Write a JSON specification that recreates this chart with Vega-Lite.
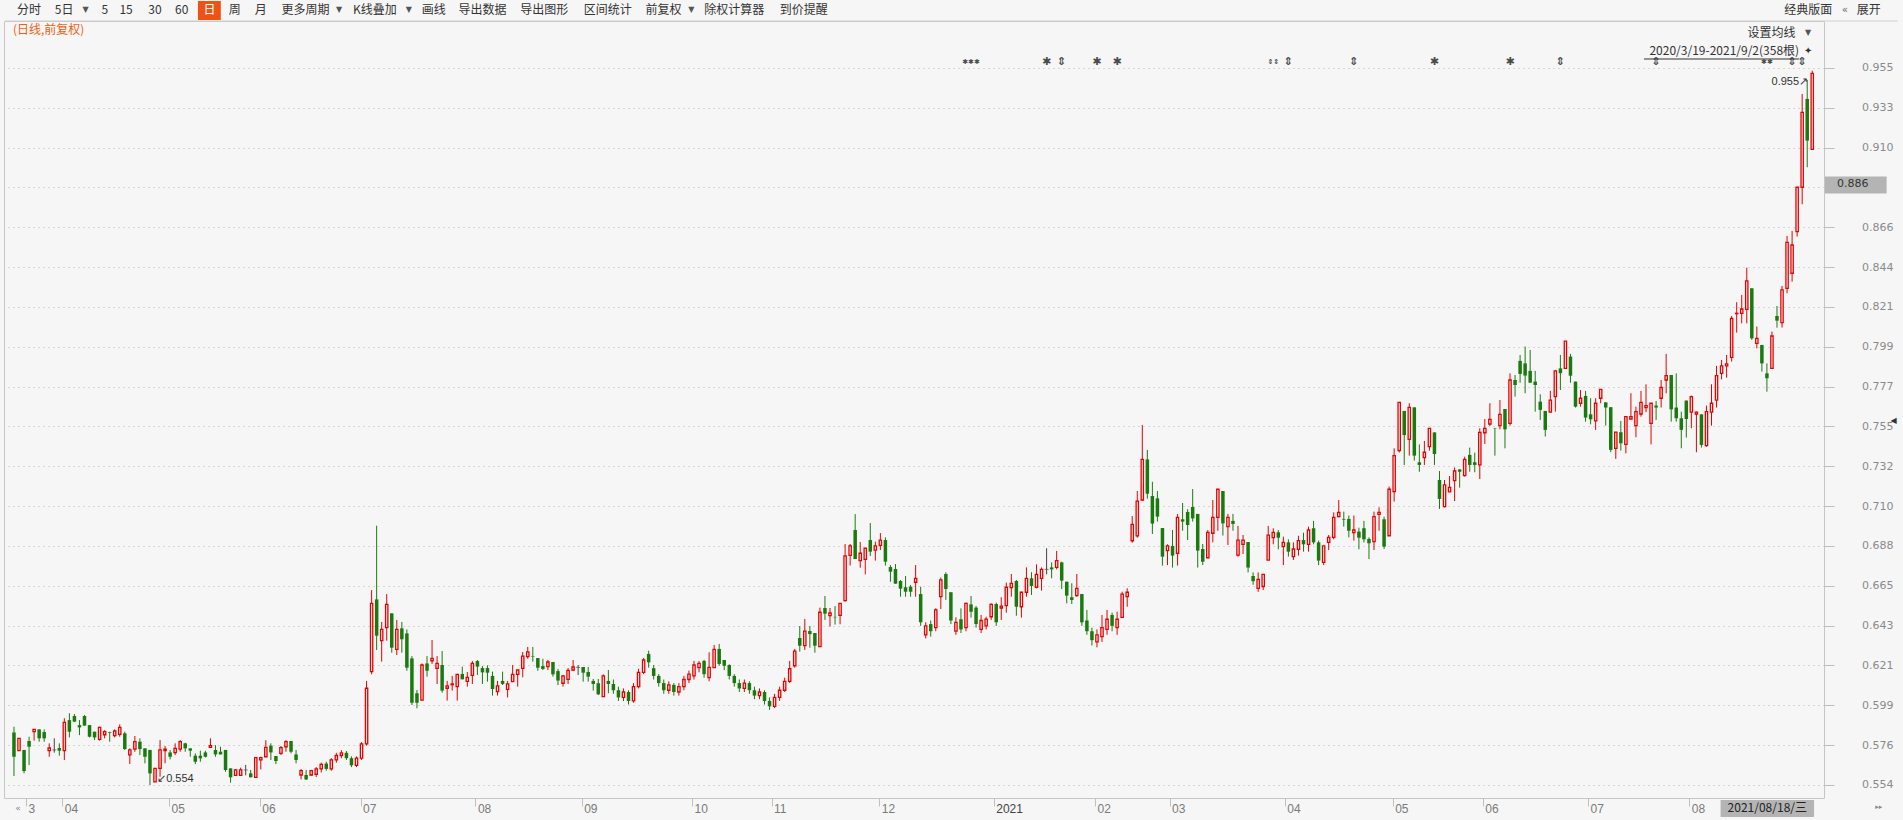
{
"$schema": "https://vega.github.io/schema/vega-lite/v6.json",
"width": 1820, "height": 777,
"autosize": {"type": "none"},
"padding": {"left": 4, "top": 21, "right": 79, "bottom": 22},
"background": "#f6f6f6",
"config": {"view": {"stroke": "#c6c6c6", "strokeWidth": 1}, "text": {"font": "Noto Sans CJK SC"}},
"data": {"values": [{}]},
"datasets": {
"k": [
{"i":0,"o":0.5834,"h":0.5866,"l":0.559,"c":0.5698},
{"i":1,"o":0.5732,"h":0.5801,"l":0.5732,"c":0.5801},
{"i":2,"o":0.5736,"h":0.5736,"l":0.5605,"c":0.5618},
{"i":3,"o":0.5786,"h":0.581,"l":0.5652,"c":0.5754},
{"i":4,"o":0.5838,"h":0.5851,"l":0.5788,"c":0.5851},
{"i":5,"o":0.5851,"h":0.5851,"l":0.5782,"c":0.5801},
{"i":6,"o":0.5836,"h":0.5851,"l":0.5782,"c":0.5801},
{"i":7,"o":0.5732,"h":0.5773,"l":0.5698,"c":0.5747},
{"i":8,"o":0.5736,"h":0.5801,"l":0.5721,"c":0.5736},
{"i":9,"o":0.5747,"h":0.5773,"l":0.5704,"c":0.5732},
{"i":10,"o":0.5732,"h":0.5913,"l":0.568,"c":0.589},
{"i":11,"o":0.5903,"h":0.5941,"l":0.5806,"c":0.5838},
{"i":12,"o":0.5926,"h":0.5937,"l":0.5894,"c":0.5894},
{"i":13,"o":0.5875,"h":0.5903,"l":0.5819,"c":0.5862},
{"i":14,"o":0.5926,"h":0.5931,"l":0.5872,"c":0.5872},
{"i":15,"o":0.5875,"h":0.5875,"l":0.5806,"c":0.581},
{"i":16,"o":0.5838,"h":0.5838,"l":0.5791,"c":0.5806},
{"i":17,"o":0.5795,"h":0.5866,"l":0.5788,"c":0.5862},
{"i":18,"o":0.5821,"h":0.5847,"l":0.5801,"c":0.5838},
{"i":19,"o":0.5836,"h":0.5838,"l":0.5782,"c":0.5832},
{"i":20,"o":0.5816,"h":0.5851,"l":0.5806,"c":0.5842},
{"i":21,"o":0.5823,"h":0.5879,"l":0.581,"c":0.5862},
{"i":22,"o":0.5829,"h":0.5838,"l":0.5736,"c":0.5741},
{"i":23,"o":0.5708,"h":0.5745,"l":0.5657,"c":0.5736},
{"i":24,"o":0.5741,"h":0.5814,"l":0.5726,"c":0.5782},
{"i":25,"o":0.5782,"h":0.5801,"l":0.5708,"c":0.5741},
{"i":26,"o":0.5745,"h":0.5745,"l":0.5661,"c":0.5698},
{"i":27,"o":0.5736,"h":0.5736,"l":0.554,"c":0.5605},
{"i":28,"o":0.5557,"h":0.5633,"l":0.5557,"c":0.5633},
{"i":29,"o":0.5633,"h":0.5791,"l":0.5586,"c":0.5736},
{"i":30,"o":0.5732,"h":0.5758,"l":0.5661,"c":0.574},
{"i":31,"o":0.5722,"h":0.5736,"l":0.5683,"c":0.5698},
{"i":32,"o":0.5721,"h":0.5773,"l":0.5708,"c":0.5745},
{"i":33,"o":0.5741,"h":0.5791,"l":0.5726,"c":0.5782},
{"i":34,"o":0.5773,"h":0.5776,"l":0.5726,"c":0.5745},
{"i":35,"o":0.5745,"h":0.5745,"l":0.5698,"c":0.5732},
{"i":36,"o":0.5704,"h":0.5717,"l":0.5657,"c":0.567},
{"i":37,"o":0.5704,"h":0.5732,"l":0.567,"c":0.5689},
{"i":38,"o":0.5722,"h":0.5732,"l":0.5694,"c":0.5698},
{"i":39,"o":0.575,"h":0.5801,"l":0.575,"c":0.576},
{"i":40,"o":0.5736,"h":0.5763,"l":0.5698,"c":0.5711},
{"i":41,"o":0.5726,"h":0.5754,"l":0.5711,"c":0.5711},
{"i":42,"o":0.5736,"h":0.5736,"l":0.5614,"c":0.5624},
{"i":43,"o":0.5633,"h":0.5633,"l":0.5553,"c":0.5583},
{"i":44,"o":0.5594,"h":0.5629,"l":0.5594,"c":0.5624},
{"i":45,"o":0.5594,"h":0.5637,"l":0.5594,"c":0.5624},
{"i":46,"o":0.5624,"h":0.5652,"l":0.5594,"c":0.5624},
{"i":47,"o":0.5605,"h":0.5624,"l":0.5583,"c":0.5583},
{"i":48,"o":0.5583,"h":0.5693,"l":0.5583,"c":0.5693},
{"i":49,"o":0.568,"h":0.5698,"l":0.5627,"c":0.5693},
{"i":50,"o":0.5698,"h":0.5791,"l":0.5698,"c":0.575},
{"i":51,"o":0.576,"h":0.5773,"l":0.568,"c":0.5722},
{"i":52,"o":0.5702,"h":0.5702,"l":0.5657,"c":0.5674},
{"i":53,"o":0.5717,"h":0.5758,"l":0.5708,"c":0.5749},
{"i":54,"o":0.5754,"h":0.5791,"l":0.5726,"c":0.5782},
{"i":55,"o":0.5786,"h":0.5786,"l":0.5717,"c":0.5726},
{"i":56,"o":0.5711,"h":0.5736,"l":0.5661,"c":0.568},
{"i":57,"o":0.5596,"h":0.5629,"l":0.5571,"c":0.562},
{"i":58,"o":0.5596,"h":0.5624,"l":0.5568,"c":0.5571},
{"i":59,"o":0.5596,"h":0.5625,"l":0.559,"c":0.562},
{"i":60,"o":0.56,"h":0.564,"l":0.5585,"c":0.563},
{"i":61,"o":0.563,"h":0.5665,"l":0.561,"c":0.5655},
{"i":62,"o":0.566,"h":0.567,"l":0.562,"c":0.563},
{"i":63,"o":0.563,"h":0.569,"l":0.562,"c":0.568},
{"i":64,"o":0.568,"h":0.572,"l":0.5665,"c":0.5705},
{"i":65,"o":0.5705,"h":0.5735,"l":0.569,"c":0.572},
{"i":66,"o":0.572,"h":0.573,"l":0.568,"c":0.569},
{"i":67,"o":0.569,"h":0.57,"l":0.564,"c":0.565},
{"i":68,"o":0.565,"h":0.57,"l":0.564,"c":0.569},
{"i":69,"o":0.569,"h":0.578,"l":0.568,"c":0.577},
{"i":70,"o":0.577,"h":0.6122,"l":0.576,"c":0.6081},
{"i":71,"o":0.6174,"h":0.663,"l":0.6159,"c":0.6556},
{"i":72,"o":0.6578,"h":0.699,"l":0.6295,"c":0.6375},
{"i":73,"o":0.6347,"h":0.6452,"l":0.623,"c":0.641},
{"i":74,"o":0.642,"h":0.6608,"l":0.6347,"c":0.655},
{"i":75,"o":0.65,"h":0.65,"l":0.628,"c":0.6308},
{"i":76,"o":0.6298,"h":0.6463,"l":0.6267,"c":0.641},
{"i":77,"o":0.6416,"h":0.6452,"l":0.628,"c":0.6355},
{"i":78,"o":0.6388,"h":0.641,"l":0.6179,"c":0.6196},
{"i":79,"o":0.6248,"h":0.6261,"l":0.5987,"c":0.6},
{"i":80,"o":0.6053,"h":0.6071,"l":0.5969,"c":0.6},
{"i":81,"o":0.6015,"h":0.622,"l":0.6012,"c":0.6211},
{"i":82,"o":0.622,"h":0.6261,"l":0.6146,"c":0.6179},
{"i":83,"o":0.6235,"h":0.6351,"l":0.6217,"c":0.6248},
{"i":84,"o":0.6192,"h":0.6261,"l":0.6105,"c":0.622},
{"i":85,"o":0.6211,"h":0.6289,"l":0.6056,"c":0.6068},
{"i":86,"o":0.6081,"h":0.6122,"l":0.6012,"c":0.6094},
{"i":87,"o":0.6101,"h":0.615,"l":0.6068,"c":0.6105},
{"i":88,"o":0.609,"h":0.6159,"l":0.6012,"c":0.6159},
{"i":89,"o":0.6161,"h":0.6202,"l":0.6131,"c":0.6131},
{"i":90,"o":0.612,"h":0.6172,"l":0.609,"c":0.6142},
{"i":91,"o":0.6153,"h":0.6233,"l":0.6105,"c":0.622},
{"i":92,"o":0.6233,"h":0.6239,"l":0.6155,"c":0.6202},
{"i":93,"o":0.6194,"h":0.6205,"l":0.6105,"c":0.617},
{"i":94,"o":0.6194,"h":0.6209,"l":0.6118,"c":0.6168},
{"i":95,"o":0.615,"h":0.6174,"l":0.604,"c":0.6077},
{"i":96,"o":0.6062,"h":0.6122,"l":0.604,"c":0.6094},
{"i":97,"o":0.6122,"h":0.6174,"l":0.6099,"c":0.6105},
{"i":98,"o":0.6075,"h":0.6122,"l":0.603,"c":0.6105},
{"i":99,"o":0.6118,"h":0.6211,"l":0.6118,"c":0.6159},
{"i":100,"o":0.6159,"h":0.6183,"l":0.609,"c":0.6183},
{"i":101,"o":0.6192,"h":0.6284,"l":0.6142,"c":0.6261},
{"i":102,"o":0.6258,"h":0.6312,"l":0.6246,"c":0.6284},
{"i":103,"o":0.6261,"h":0.6312,"l":0.623,"c":0.6258},
{"i":104,"o":0.625,"h":0.625,"l":0.6179,"c":0.6196},
{"i":105,"o":0.6205,"h":0.6246,"l":0.6183,"c":0.6189},
{"i":106,"o":0.6202,"h":0.6239,"l":0.6183,"c":0.6228},
{"i":107,"o":0.6228,"h":0.6228,"l":0.6146,"c":0.6159},
{"i":108,"o":0.6177,"h":0.6189,"l":0.6099,"c":0.6124},
{"i":109,"o":0.6109,"h":0.6155,"l":0.609,"c":0.615},
{"i":110,"o":0.6131,"h":0.6194,"l":0.6105,"c":0.6181},
{"i":111,"o":0.6183,"h":0.6239,"l":0.6177,"c":0.62},
{"i":112,"o":0.6198,"h":0.6211,"l":0.6155,"c":0.6198},
{"i":113,"o":0.62,"h":0.62,"l":0.6118,"c":0.6168},
{"i":114,"o":0.6172,"h":0.62,"l":0.6118,"c":0.6146},
{"i":115,"o":0.6122,"h":0.6133,"l":0.6068,"c":0.6105},
{"i":116,"o":0.6109,"h":0.6133,"l":0.6043,"c":0.6047},
{"i":117,"o":0.6034,"h":0.6159,"l":0.6034,"c":0.615},
{"i":118,"o":0.6122,"h":0.6183,"l":0.6053,"c":0.6105},
{"i":119,"o":0.6105,"h":0.613,"l":0.605,"c":0.607},
{"i":120,"o":0.607,"h":0.609,"l":0.601,"c":0.603},
{"i":121,"o":0.603,"h":0.608,"l":0.601,"c":0.606},
{"i":122,"o":0.606,"h":0.607,"l":0.599,"c":0.601},
{"i":123,"o":0.601,"h":0.611,"l":0.6,"c":0.609},
{"i":124,"o":0.609,"h":0.619,"l":0.608,"c":0.617},
{"i":125,"o":0.617,"h":0.625,"l":0.616,"c":0.6239},
{"i":126,"o":0.6273,"h":0.6291,"l":0.6196,"c":0.6226},
{"i":127,"o":0.6193,"h":0.6211,"l":0.613,"c":0.615},
{"i":128,"o":0.615,"h":0.616,"l":0.609,"c":0.611},
{"i":129,"o":0.611,"h":0.613,"l":0.605,"c":0.607},
{"i":130,"o":0.607,"h":0.612,"l":0.605,"c":0.61},
{"i":131,"o":0.61,"h":0.611,"l":0.604,"c":0.606},
{"i":132,"o":0.606,"h":0.611,"l":0.604,"c":0.609},
{"i":133,"o":0.609,"h":0.615,"l":0.607,"c":0.613},
{"i":134,"o":0.613,"h":0.618,"l":0.611,"c":0.616},
{"i":135,"o":0.615,"h":0.6234,"l":0.613,"c":0.6211},
{"i":136,"o":0.6196,"h":0.6234,"l":0.617,"c":0.622},
{"i":137,"o":0.6234,"h":0.624,"l":0.614,"c":0.616},
{"i":138,"o":0.614,"h":0.6282,"l":0.612,"c":0.6198},
{"i":139,"o":0.6196,"h":0.6323,"l":0.6196,"c":0.6299},
{"i":140,"o":0.6301,"h":0.6329,"l":0.6207,"c":0.6217},
{"i":141,"o":0.6239,"h":0.6239,"l":0.6183,"c":0.6207},
{"i":142,"o":0.6211,"h":0.6215,"l":0.613,"c":0.615},
{"i":143,"o":0.615,"h":0.616,"l":0.609,"c":0.611},
{"i":144,"o":0.611,"h":0.613,"l":0.606,"c":0.608},
{"i":145,"o":0.608,"h":0.613,"l":0.606,"c":0.611},
{"i":146,"o":0.611,"h":0.612,"l":0.605,"c":0.607},
{"i":147,"o":0.607,"h":0.609,"l":0.602,"c":0.604},
{"i":148,"o":0.604,"h":0.608,"l":0.602,"c":0.606},
{"i":149,"o":0.606,"h":0.607,"l":0.599,"c":0.601},
{"i":150,"o":0.601,"h":0.603,"l":0.596,"c":0.598},
{"i":151,"o":0.598,"h":0.605,"l":0.597,"c":0.603},
{"i":152,"o":0.603,"h":0.609,"l":0.601,"c":0.607},
{"i":153,"o":0.607,"h":0.614,"l":0.606,"c":0.612},
{"i":154,"o":0.612,"h":0.6234,"l":0.611,"c":0.619},
{"i":155,"o":0.6207,"h":0.6301,"l":0.6196,"c":0.6289},
{"i":156,"o":0.6362,"h":0.6429,"l":0.6286,"c":0.6319},
{"i":157,"o":0.6319,"h":0.6468,"l":0.6295,"c":0.6401},
{"i":158,"o":0.6401,"h":0.6429,"l":0.6308,"c":0.6384},
{"i":159,"o":0.639,"h":0.639,"l":0.628,"c":0.6319},
{"i":160,"o":0.6314,"h":0.6532,"l":0.6314,"c":0.6506},
{"i":161,"o":0.653,"h":0.6597,"l":0.6463,"c":0.6498},
{"i":162,"o":0.6487,"h":0.653,"l":0.6426,"c":0.6502},
{"i":163,"o":0.648,"h":0.6541,"l":0.6437,"c":0.6478},
{"i":164,"o":0.6489,"h":0.6556,"l":0.6439,"c":0.6556},
{"i":165,"o":0.6571,"h":0.6888,"l":0.6565,"c":0.6821},
{"i":166,"o":0.6824,"h":0.6888,"l":0.6767,"c":0.6877},
{"i":167,"o":0.6966,"h":0.7055,"l":0.6804,"c":0.6804},
{"i":168,"o":0.6795,"h":0.6899,"l":0.6755,"c":0.6836},
{"i":169,"o":0.6802,"h":0.6864,"l":0.6718,"c":0.6864},
{"i":170,"o":0.691,"h":0.7005,"l":0.6821,"c":0.6845},
{"i":171,"o":0.6854,"h":0.6901,"l":0.6795,"c":0.6877},
{"i":172,"o":0.688,"h":0.6949,"l":0.6854,"c":0.691},
{"i":173,"o":0.691,"h":0.6925,"l":0.6767,"c":0.6789},
{"i":174,"o":0.6759,"h":0.677,"l":0.6677,"c":0.6733},
{"i":175,"o":0.6748,"h":0.6776,"l":0.6666,"c":0.6666},
{"i":176,"o":0.6681,"h":0.6686,"l":0.6593,"c":0.6638},
{"i":177,"o":0.6646,"h":0.6709,"l":0.6593,"c":0.6621},
{"i":178,"o":0.6649,"h":0.6659,"l":0.6593,"c":0.6621},
{"i":179,"o":0.6674,"h":0.677,"l":0.6593,"c":0.6696},
{"i":180,"o":0.6608,"h":0.6649,"l":0.643,"c":0.645},
{"i":181,"o":0.638,"h":0.645,"l":0.636,"c":0.643},
{"i":182,"o":0.644,"h":0.646,"l":0.637,"c":0.64},
{"i":183,"o":0.642,"h":0.6528,"l":0.64,"c":0.6519},
{"i":184,"o":0.6593,"h":0.67,"l":0.6524,"c":0.6687},
{"i":185,"o":0.672,"h":0.673,"l":0.6575,"c":0.6636},
{"i":186,"o":0.6618,"h":0.6618,"l":0.644,"c":0.646},
{"i":187,"o":0.64,"h":0.6478,"l":0.638,"c":0.645},
{"i":188,"o":0.6467,"h":0.6528,"l":0.639,"c":0.641},
{"i":189,"o":0.642,"h":0.656,"l":0.64,"c":0.6556},
{"i":190,"o":0.655,"h":0.6597,"l":0.6476,"c":0.6509},
{"i":191,"o":0.6532,"h":0.6541,"l":0.642,"c":0.644},
{"i":192,"o":0.641,"h":0.6491,"l":0.639,"c":0.646},
{"i":193,"o":0.643,"h":0.6481,"l":0.641,"c":0.6468},
{"i":194,"o":0.6481,"h":0.6556,"l":0.6463,"c":0.655},
{"i":195,"o":0.6552,"h":0.656,"l":0.643,"c":0.645},
{"i":196,"o":0.653,"h":0.659,"l":0.6463,"c":0.654},
{"i":197,"o":0.6543,"h":0.6672,"l":0.6504,"c":0.6646},
{"i":198,"o":0.6644,"h":0.672,"l":0.6593,"c":0.6668},
{"i":199,"o":0.6681,"h":0.6687,"l":0.6487,"c":0.6537},
{"i":200,"o":0.6537,"h":0.6621,"l":0.6476,"c":0.6618},
{"i":201,"o":0.6618,"h":0.6757,"l":0.6593,"c":0.6696},
{"i":202,"o":0.6696,"h":0.673,"l":0.6603,"c":0.6653},
{"i":203,"o":0.6646,"h":0.6774,"l":0.664,"c":0.6718},
{"i":204,"o":0.6696,"h":0.6757,"l":0.6627,"c":0.6746},
{"i":205,"o":0.6746,"h":0.6864,"l":0.6718,"c":0.6746},
{"i":206,"o":0.6757,"h":0.6785,"l":0.6696,"c":0.6746},
{"i":207,"o":0.6757,"h":0.6849,"l":0.6746,"c":0.6795},
{"i":208,"o":0.6785,"h":0.6789,"l":0.6636,"c":0.6683},
{"i":209,"o":0.6677,"h":0.6677,"l":0.6556,"c":0.6599},
{"i":210,"o":0.659,"h":0.6668,"l":0.6552,"c":0.6575},
{"i":211,"o":0.6599,"h":0.672,"l":0.6593,"c":0.664},
{"i":212,"o":0.6608,"h":0.6608,"l":0.643,"c":0.645},
{"i":213,"o":0.646,"h":0.6519,"l":0.638,"c":0.64},
{"i":214,"o":0.64,"h":0.642,"l":0.632,"c":0.635},
{"i":215,"o":0.634,"h":0.641,"l":0.631,"c":0.638},
{"i":216,"o":0.637,"h":0.6491,"l":0.634,"c":0.642},
{"i":217,"o":0.641,"h":0.6519,"l":0.638,"c":0.6467},
{"i":218,"o":0.6491,"h":0.6504,"l":0.64,"c":0.643},
{"i":219,"o":0.642,"h":0.6509,"l":0.638,"c":0.6467},
{"i":220,"o":0.6478,"h":0.6621,"l":0.6476,"c":0.6608},
{"i":221,"o":0.6593,"h":0.664,"l":0.6537,"c":0.6618},
{"i":222,"o":0.6906,"h":0.7044,"l":0.6895,"c":0.6998},
{"i":223,"o":0.6933,"h":0.7184,"l":0.6923,"c":0.7128},
{"i":224,"o":0.7134,"h":0.7553,"l":0.713,"c":0.7361},
{"i":225,"o":0.7361,"h":0.7414,"l":0.7141,"c":0.7169},
{"i":226,"o":0.7156,"h":0.7236,"l":0.6944,"c":0.7002},
{"i":227,"o":0.7143,"h":0.7184,"l":0.7013,"c":0.7041},
{"i":228,"o":0.6977,"h":0.6977,"l":0.6767,"c":0.6817},
{"i":229,"o":0.6851,"h":0.6886,"l":0.677,"c":0.6877},
{"i":230,"o":0.6877,"h":0.6966,"l":0.6756,"c":0.6823},
{"i":231,"o":0.6836,"h":0.7056,"l":0.6767,"c":0.7037},
{"i":232,"o":0.7026,"h":0.7117,"l":0.6962,"c":0.7013},
{"i":233,"o":0.7067,"h":0.7082,"l":0.691,"c":0.6994},
{"i":234,"o":0.7095,"h":0.7195,"l":0.7013,"c":0.7031},
{"i":235,"o":0.7056,"h":0.7056,"l":0.6756,"c":0.6851},
{"i":236,"o":0.686,"h":0.6888,"l":0.677,"c":0.6789},
{"i":237,"o":0.6811,"h":0.6966,"l":0.6811,"c":0.6953},
{"i":238,"o":0.6948,"h":0.7134,"l":0.6897,"c":0.7037},
{"i":239,"o":0.7037,"h":0.7194,"l":0.6962,"c":0.7194},
{"i":240,"o":0.7184,"h":0.7184,"l":0.6935,"c":0.7003},
{"i":241,"o":0.6985,"h":0.7056,"l":0.6882,"c":0.7037},
{"i":242,"o":0.7017,"h":0.7056,"l":0.6962,"c":0.7},
{"i":243,"o":0.6826,"h":0.6989,"l":0.6817,"c":0.691},
{"i":244,"o":0.6886,"h":0.6938,"l":0.6832,"c":0.691},
{"i":245,"o":0.6899,"h":0.6899,"l":0.6729,"c":0.6756},
{"i":246,"o":0.6709,"h":0.6729,"l":0.666,"c":0.668},
{"i":247,"o":0.664,"h":0.6729,"l":0.662,"c":0.669},
{"i":248,"o":0.665,"h":0.672,"l":0.663,"c":0.6718},
{"i":249,"o":0.6798,"h":0.6989,"l":0.6798,"c":0.6938},
{"i":250,"o":0.6923,"h":0.6976,"l":0.6886,"c":0.6953},
{"i":251,"o":0.6953,"h":0.6966,"l":0.6858,"c":0.6923},
{"i":252,"o":0.6873,"h":0.6929,"l":0.677,"c":0.6897},
{"i":253,"o":0.6897,"h":0.6914,"l":0.6817,"c":0.6845},
{"i":254,"o":0.6817,"h":0.6897,"l":0.6798,"c":0.686},
{"i":255,"o":0.6858,"h":0.6934,"l":0.6823,"c":0.6907},
{"i":256,"o":0.691,"h":0.6951,"l":0.6845,"c":0.6886},
{"i":257,"o":0.6886,"h":0.6985,"l":0.6845,"c":0.6966},
{"i":258,"o":0.6976,"h":0.7017,"l":0.6886,"c":0.6897},
{"i":259,"o":0.6897,"h":0.6907,"l":0.677,"c":0.6795},
{"i":260,"o":0.6785,"h":0.6877,"l":0.677,"c":0.6877},
{"i":261,"o":0.6897,"h":0.6938,"l":0.6854,"c":0.6925},
{"i":262,"o":0.6925,"h":0.7065,"l":0.6914,"c":0.7037},
{"i":263,"o":0.7041,"h":0.7134,"l":0.7037,"c":0.7065},
{"i":264,"o":0.7028,"h":0.7069,"l":0.6985,"c":0.7024},
{"i":265,"o":0.7028,"h":0.7047,"l":0.6925,"c":0.6962},
{"i":266,"o":0.6951,"h":0.7047,"l":0.6907,"c":0.6966},
{"i":267,"o":0.6957,"h":0.6979,"l":0.6858,"c":0.6923},
{"i":268,"o":0.6976,"h":0.7017,"l":0.6897,"c":0.6914},
{"i":269,"o":0.6916,"h":0.6925,"l":0.6804,"c":0.6892},
{"i":270,"o":0.6901,"h":0.7069,"l":0.6854,"c":0.7041},
{"i":271,"o":0.7054,"h":0.7093,"l":0.6962,"c":0.7065},
{"i":272,"o":0.7026,"h":0.7041,"l":0.686,"c":0.6873},
{"i":273,"o":0.6934,"h":0.7209,"l":0.6934,"c":0.7194},
{"i":274,"o":0.7181,"h":0.7423,"l":0.7125,"c":0.7382},
{"i":275,"o":0.741,"h":0.768,"l":0.7399,"c":0.768},
{"i":276,"o":0.7632,"h":0.7632,"l":0.733,"c":0.7497},
{"i":277,"o":0.7473,"h":0.7675,"l":0.7382,"c":0.7652},
{"i":278,"o":0.7652,"h":0.7652,"l":0.7354,"c":0.7382},
{"i":279,"o":0.7345,"h":0.7445,"l":0.7292,"c":0.733},
{"i":280,"o":0.7371,"h":0.7464,"l":0.733,"c":0.7401},
{"i":281,"o":0.7432,"h":0.7535,"l":0.741,"c":0.7535},
{"i":282,"o":0.7512,"h":0.7512,"l":0.733,"c":0.7391},
{"i":283,"o":0.7246,"h":0.7296,"l":0.7084,"c":0.714},
{"i":284,"o":0.7097,"h":0.7246,"l":0.7093,"c":0.7218},
{"i":285,"o":0.7179,"h":0.7268,"l":0.7179,"c":0.7205},
{"i":286,"o":0.7242,"h":0.7315,"l":0.7128,"c":0.7296},
{"i":287,"o":0.7305,"h":0.7305,"l":0.7203,"c":0.7292},
{"i":288,"o":0.727,"h":0.7376,"l":0.7265,"c":0.7361},
{"i":289,"o":0.7386,"h":0.7427,"l":0.7292,"c":0.733},
{"i":290,"o":0.7345,"h":0.7399,"l":0.7289,"c":0.733},
{"i":291,"o":0.733,"h":0.7535,"l":0.7251,"c":0.7512},
{"i":292,"o":0.751,"h":0.7587,"l":0.7447,"c":0.7535},
{"i":293,"o":0.7559,"h":0.7675,"l":0.7548,"c":0.7585},
{"i":294,"o":0.7537,"h":0.7537,"l":0.7382,"c":0.7535},
{"i":295,"o":0.755,"h":0.7693,"l":0.7529,"c":0.7613},
{"i":296,"o":0.7643,"h":0.7643,"l":0.7423,"c":0.7529},
{"i":297,"o":0.7563,"h":0.7842,"l":0.755,"c":0.7805},
{"i":298,"o":0.7805,"h":0.7833,"l":0.7712,"c":0.7777},
{"i":299,"o":0.7912,"h":0.7945,"l":0.779,"c":0.7839},
{"i":300,"o":0.7898,"h":0.7992,"l":0.7731,"c":0.783},
{"i":301,"o":0.7856,"h":0.7973,"l":0.779,"c":0.779},
{"i":302,"o":0.7796,"h":0.7856,"l":0.7628,"c":0.7777},
{"i":303,"o":0.7684,"h":0.7725,"l":0.7582,"c":0.7638},
{"i":304,"o":0.7632,"h":0.7632,"l":0.7489,"c":0.7526},
{"i":305,"o":0.7625,"h":0.7744,"l":0.7625,"c":0.7693},
{"i":306,"o":0.7712,"h":0.7861,"l":0.7628,"c":0.7856},
{"i":307,"o":0.787,"h":0.7945,"l":0.7749,"c":0.7843},
{"i":308,"o":0.787,"h":0.8023,"l":0.787,"c":0.8023},
{"i":309,"o":0.7936,"h":0.7951,"l":0.779,"c":0.7829},
{"i":310,"o":0.7796,"h":0.7796,"l":0.7651,"c":0.7656},
{"i":311,"o":0.7675,"h":0.7749,"l":0.7656,"c":0.7703},
{"i":312,"o":0.7716,"h":0.7744,"l":0.7572,"c":0.7595},
{"i":313,"o":0.7613,"h":0.7703,"l":0.7557,"c":0.7585},
{"i":314,"o":0.7576,"h":0.7703,"l":0.7526,"c":0.7675},
{"i":315,"o":0.7703,"h":0.7753,"l":0.7675,"c":0.7753},
{"i":316,"o":0.768,"h":0.768,"l":0.755,"c":0.7651},
{"i":317,"o":0.7653,"h":0.7653,"l":0.7401,"c":0.7414},
{"i":318,"o":0.7423,"h":0.7513,"l":0.7364,"c":0.7513},
{"i":319,"o":0.7513,"h":0.7576,"l":0.741,"c":0.7451},
{"i":320,"o":0.7445,"h":0.76,"l":0.7395,"c":0.76},
{"i":321,"o":0.7587,"h":0.7731,"l":0.7587,"c":0.76},
{"i":322,"o":0.755,"h":0.7656,"l":0.7485,"c":0.7628},
{"i":323,"o":0.7615,"h":0.7744,"l":0.76,"c":0.768},
{"i":324,"o":0.7651,"h":0.7781,"l":0.7625,"c":0.7662},
{"i":325,"o":0.7563,"h":0.7675,"l":0.7445,"c":0.7675},
{"i":326,"o":0.7662,"h":0.7688,"l":0.7582,"c":0.7651},
{"i":327,"o":0.7703,"h":0.7805,"l":0.7651,"c":0.7763},
{"i":328,"o":0.7805,"h":0.7951,"l":0.7731,"c":0.7829},
{"i":329,"o":0.7833,"h":0.7833,"l":0.7572,"c":0.7641},
{"i":330,"o":0.7651,"h":0.7842,"l":0.7572,"c":0.7591},
{"i":331,"o":0.7591,"h":0.7628,"l":0.7423,"c":0.7526},
{"i":332,"o":0.769,"h":0.769,"l":0.7483,"c":0.7587},
{"i":333,"o":0.7625,"h":0.7718,"l":0.7535,"c":0.7712},
{"i":334,"o":0.7615,"h":0.7628,"l":0.7401,"c":0.7625},
{"i":335,"o":0.7613,"h":0.7613,"l":0.7427,"c":0.7442},
{"i":336,"o":0.7438,"h":0.7662,"l":0.7432,"c":0.7628},
{"i":337,"o":0.7625,"h":0.7781,"l":0.755,"c":0.7675},
{"i":338,"o":0.7693,"h":0.7884,"l":0.7651,"c":0.7829},
{"i":339,"o":0.7842,"h":0.7917,"l":0.7809,"c":0.7884},
{"i":340,"o":0.7884,"h":0.7945,"l":0.7818,"c":0.7895},
{"i":341,"o":0.7932,"h":0.8163,"l":0.7908,"c":0.815},
{"i":342,"o":0.8176,"h":0.824,"l":0.807,"c":0.8178},
{"i":343,"o":0.8178,"h":0.8281,"l":0.8122,"c":0.8202},
{"i":344,"o":0.82,"h":0.8433,"l":0.8122,"c":0.8359},
{"i":345,"o":0.8318,"h":0.8318,"l":0.8029,"c":0.8038},
{"i":346,"o":0.801,"h":0.8104,"l":0.7982,"c":0.8038},
{"i":347,"o":0.8001,"h":0.8001,"l":0.7852,"c":0.7898},
{"i":348,"o":0.7842,"h":0.7898,"l":0.774,"c":0.7815},
{"i":349,"o":0.787,"h":0.8076,"l":0.787,"c":0.8051},
{"i":350,"o":0.8163,"h":0.8219,"l":0.8098,"c":0.8137},
{"i":351,"o":0.8126,"h":0.8331,"l":0.8098,"c":0.8309},
{"i":352,"o":0.8318,"h":0.8611,"l":0.829,"c":0.8575},
{"i":353,"o":0.8402,"h":0.8639,"l":0.8355,"c":0.856},
{"i":354,"o":0.8635,"h":0.8883,"l":0.8607,"c":0.8883},
{"i":355,"o":0.8883,"h":0.9405,"l":0.8788,"c":0.9302},
{"i":356,"o":0.9377,"h":0.9483,"l":0.8995,"c":0.9144},
{"i":357,"o":0.9095,"h":0.9535,"l":0.9095,"c":0.952}
],
"ev": [
{"i":190,"s":"✱✱✱"},{"i":205,"s":"✱"},{"i":208,"s":"⇕"},{"i":215,"s":"✱"},{"i":219,"s":"✱"},{"i":250,"s":"⇕⇕"},{"i":253,"s":"⇕"},{"i":266,"s":"⇕"},{"i":282,"s":"✱"},{"i":297,"s":"✱"},{"i":307,"s":"⇕"},{"i":326,"s":"⇕"},{"i":348,"s":"✱✱"},{"i":353,"s":"⇕"},{"i":355,"s":"⇕"}
]
},
"layer": [
{"data": {"name": "k"},
 "mark": {"type": "rule", "strokeWidth": 1},
 "encoding": {
  "x": {"field": "i", "type": "quantitative", "title": null,
   "scale": {"domain": [-0.987, 358.34], "nice": false, "zero": false},
   "axis": {"orient": "bottom", "values": [2.37, 9.58, 30.8, 48.8, 68.8, 91.6, 112.7, 134.6, 150.4, 171.8, 194.5, 214.6, 229.4, 252.3, 273.7, 291.6, 312.5, 332.6],
    "labelExpr": "['3','04','05','06','07','08','09','10','11','12','2021','02','03','04','05','06','07','08'][indexof([2.37,9.58,30.8,48.8,68.8,91.6,112.7,134.6,150.4,171.8,194.5,214.6,229.4,252.3,273.7,291.6,312.5,332.6], datum.value)]",
    "grid": false, "domain": false, "ticks": true, "tickSize": 8, "tickColor": "#c0c0c0",
    "labelAlign": "left", "labelBaseline": "middle", "labelPadding": 2, "labelOffset": 2,
    "labelColor": {"condition": {"test": "datum.value == 194.5", "value": "#444444"}, "value": "#7a7a7a"},
    "labelFont": "Liberation Sans", "labelFontSize": 12, "labelFlush": false, "labelOverlap": false, "labelBound": false}},
  "y": {"field": "l", "type": "quantitative", "title": null,
   "scale": {"domain": [0.546726, 0.981286], "nice": false, "zero": false},
   "axis": {"orient": "right", "values": [0.554, 0.576278, 0.598556, 0.620833, 0.643111, 0.665389, 0.687667, 0.709944, 0.732222, 0.754501, 0.776778, 0.799056, 0.821333, 0.843611, 0.865889, 0.888167, 0.910444, 0.932722, 0.955],
    "labelExpr": "datum.value > 0.887 && datum.value < 0.889 ? '' : format(datum.value, '.3f')",
    "grid": true, "gridDash": [1, 4], "gridColor": "#b8b8b8", "domain": false,
    "ticks": true, "tickSize": 10, "tickColor": "#bdbdbd",
    "labelAlign": "right", "labelBaseline": "middle", "labelPadding": 59,
    "labelColor": "#8a8a8a", "labelFont": "DejaVu Sans", "labelFontSize": 11, "labelOverlap": false, "labelBound": false, "labelFlush": false}},
  "y2": {"field": "h"},
  "color": {"condition": [{"test": "datum.c > datum.o", "value": "#e60000"}, {"test": "datum.c < datum.o", "value": "#1b7a0f"}], "value": "#444444"}
 }},
{"data": {"name": "k"}, "transform": [{"filter": "datum.c > datum.o"}],
 "mark": {"type": "bar", "width": 2.3, "fill": "#f6f6f6", "stroke": "#e60000", "strokeWidth": 1.3},
 "encoding": {"x": {"field": "i", "type": "quantitative", "title": null}, "y": {"field": "o", "type": "quantitative", "title": null}, "y2": {"field": "c"}}},
{"data": {"name": "k"}, "transform": [{"filter": "datum.c < datum.o"}],
 "mark": {"type": "bar", "width": 3.5, "color": "#1b7a0f"},
 "encoding": {"x": {"field": "i", "type": "quantitative", "title": null}, "y": {"field": "o", "type": "quantitative", "title": null}, "y2": {"field": "c"}}},
{"data": {"name": "k"}, "transform": [{"filter": "datum.c == datum.o"}],
 "mark": {"type": "tick", "orient": "horizontal", "size": 4, "thickness": 1, "color": "#444444"},
 "encoding": {"x": {"field": "i", "type": "quantitative", "title": null}, "y": {"field": "o", "type": "quantitative", "title": null}}},
{"data": {"name": "ev"}, "transform": [{"filter": "length(datum.s) == 1"}],
 "mark": {"type": "text", "font": "DejaVu Sans", "fontSize": 11, "fontWeight": "bold", "color": "#4a4a4a", "baseline": "middle", "align": "center"},
 "encoding": {"x": {"field": "i", "type": "quantitative", "title": null}, "y": {"datum": 0.958356}, "text": {"field": "s"}}},
{"data": {"name": "ev"}, "transform": [{"filter": "length(datum.s) > 1"}],
 "mark": {"type": "text", "font": "DejaVu Sans", "fontSize": 7, "fontWeight": "bold", "color": "#4a4a4a", "baseline": "middle", "align": "center"},
 "encoding": {"x": {"field": "i", "type": "quantitative", "title": null}, "y": {"datum": 0.958356}, "text": {"field": "s"}}},
{"mark": {"type": "rule", "color": "#cfcfcf"}, "encoding": {"x": {"datum": -1.78}, "x2": {"datum": 373.94}, "y": {"datum": 0.981286}}},
{"mark": {"type": "rect", "color": "#ef5314"}, "encoding": {"x": {"datum": 36.525}, "x2": {"datum": 41.066}, "y": {"datum": 0.992471}, "y2": {"datum": 0.981845}}},
{"mark": {"type": "text", "align": "center", "baseline": "middle", "fontSize": 12, "color": "#ffffff"}, "encoding": {"x": {"datum": 38.796}, "y": {"datum": 0.987438}, "text": {"value": "日"}}},
{"mark": {"type": "text", "align": "left", "baseline": "middle", "fontSize": 12, "color": "#333333"}, "encoding": {"x": {"datum": 0.592}, "y": {"datum": 0.987438}, "text": {"value": "分时"}}},
{"mark": {"type": "text", "align": "left", "baseline": "middle", "fontSize": 12, "color": "#333333"}, "encoding": {"x": {"datum": 8.095}, "y": {"datum": 0.987438}, "text": {"value": "5日"}}},
{"mark": {"type": "text", "align": "left", "baseline": "middle", "fontSize": 12, "color": "#333333"}, "encoding": {"x": {"datum": 17.374}, "y": {"datum": 0.987438}, "text": {"value": "5"}}},
{"mark": {"type": "text", "align": "left", "baseline": "middle", "fontSize": 12, "color": "#333333"}, "encoding": {"x": {"datum": 20.928}, "y": {"datum": 0.987438}, "text": {"value": "15"}}},
{"mark": {"type": "text", "align": "left", "baseline": "middle", "fontSize": 12, "color": "#333333"}, "encoding": {"x": {"datum": 26.654}, "y": {"datum": 0.987438}, "text": {"value": "30"}}},
{"mark": {"type": "text", "align": "left", "baseline": "middle", "fontSize": 12, "color": "#333333"}, "encoding": {"x": {"datum": 31.984}, "y": {"datum": 0.987438}, "text": {"value": "60"}}},
{"mark": {"type": "text", "align": "left", "baseline": "middle", "fontSize": 12, "color": "#333333"}, "encoding": {"x": {"datum": 42.646}, "y": {"datum": 0.987438}, "text": {"value": "周"}}},
{"mark": {"type": "text", "align": "left", "baseline": "middle", "fontSize": 12, "color": "#333333"}, "encoding": {"x": {"datum": 47.779}, "y": {"datum": 0.987438}, "text": {"value": "月"}}},
{"mark": {"type": "text", "align": "left", "baseline": "middle", "fontSize": 12, "color": "#333333"}, "encoding": {"x": {"datum": 53.11}, "y": {"datum": 0.987438}, "text": {"value": "更多周期"}}},
{"mark": {"type": "text", "align": "left", "baseline": "middle", "fontSize": 12, "color": "#333333"}, "encoding": {"x": {"datum": 67.325}, "y": {"datum": 0.987438}, "text": {"value": "K线叠加"}}},
{"mark": {"type": "text", "align": "left", "baseline": "middle", "fontSize": 12, "color": "#333333"}, "encoding": {"x": {"datum": 80.948}, "y": {"datum": 0.987438}, "text": {"value": "画线"}}},
{"mark": {"type": "text", "align": "left", "baseline": "middle", "fontSize": 12, "color": "#333333"}, "encoding": {"x": {"datum": 88.253}, "y": {"datum": 0.987438}, "text": {"value": "导出数据"}}},
{"mark": {"type": "text", "align": "left", "baseline": "middle", "fontSize": 12, "color": "#333333"}, "encoding": {"x": {"datum": 100.494}, "y": {"datum": 0.987438}, "text": {"value": "导出图形"}}},
{"mark": {"type": "text", "align": "left", "baseline": "middle", "fontSize": 12, "color": "#333333"}, "encoding": {"x": {"datum": 113.13}, "y": {"datum": 0.987438}, "text": {"value": "区间统计"}}},
{"mark": {"type": "text", "align": "left", "baseline": "middle", "fontSize": 12, "color": "#333333"}, "encoding": {"x": {"datum": 125.37}, "y": {"datum": 0.987438}, "text": {"value": "前复权"}}},
{"mark": {"type": "text", "align": "left", "baseline": "middle", "fontSize": 12, "color": "#333333"}, "encoding": {"x": {"datum": 137.019}, "y": {"datum": 0.987438}, "text": {"value": "除权计算器"}}},
{"mark": {"type": "text", "align": "left", "baseline": "middle", "fontSize": 12, "color": "#333333"}, "encoding": {"x": {"datum": 152.024}, "y": {"datum": 0.987438}, "text": {"value": "到价提醒"}}},
{"mark": {"type": "text", "align": "left", "baseline": "middle", "fontSize": 12, "color": "#333333"}, "encoding": {"x": {"datum": 351.431}, "y": {"datum": 0.987438}, "text": {"value": "经典版面"}}},
{"mark": {"type": "text", "align": "left", "baseline": "middle", "fontSize": 12, "color": "#333333"}, "encoding": {"x": {"datum": 365.844}, "y": {"datum": 0.987438}, "text": {"value": "展开"}}},
{"mark": {"type": "text", "align": "center", "baseline": "middle", "fontSize": 10, "font": "DejaVu Sans", "color": "#666666"}, "encoding": {"x": {"datum": 363.475}, "y": {"datum": 0.987438}, "text": {"value": "«"}}},
{"mark": {"type": "text", "align": "center", "baseline": "middle", "fontSize": 8, "font": "DejaVu Sans", "color": "#555555"}, "encoding": {"x": {"datum": 14.215}, "y": {"datum": 0.987438}, "text": {"value": "▼"}}},
{"mark": {"type": "text", "align": "center", "baseline": "middle", "fontSize": 8, "font": "DejaVu Sans", "color": "#555555"}, "encoding": {"x": {"datum": 64.561}, "y": {"datum": 0.987438}, "text": {"value": "▼"}}},
{"mark": {"type": "text", "align": "center", "baseline": "middle", "fontSize": 8, "font": "DejaVu Sans", "color": "#555555"}, "encoding": {"x": {"datum": 78.381}, "y": {"datum": 0.987438}, "text": {"value": "▼"}}},
{"mark": {"type": "text", "align": "center", "baseline": "middle", "fontSize": 8, "font": "DejaVu Sans", "color": "#555555"}, "encoding": {"x": {"datum": 134.452}, "y": {"datum": 0.987438}, "text": {"value": "▼"}}},
{"mark": {"type": "text", "align": "left", "baseline": "middle", "fontSize": 12, "color": "#f0600f"}, "encoding": {"x": {"datum": -0.197}, "y": {"datum": 0.976253}, "text": {"value": "(日线,前复权)"}}},
{"mark": {"type": "text", "align": "left", "baseline": "middle", "fontSize": 12, "color": "#333333"}, "encoding": {"x": {"datum": 344.126}, "y": {"datum": 0.974575}, "text": {"value": "设置均线"}}},
{"mark": {"type": "text", "align": "center", "baseline": "middle", "fontSize": 8, "font": "DejaVu Sans", "color": "#555555"}, "encoding": {"x": {"datum": 356.17}, "y": {"datum": 0.974575}, "text": {"value": "▼"}}},
{"mark": {"type": "text", "align": "right", "baseline": "middle", "fontSize": 12, "color": "#333333"}, "encoding": {"x": {"datum": 354.393}, "y": {"datum": 0.964508}, "text": {"value": "2020/3/19-2021/9/2(358根)"}}},
{"mark": {"type": "rule", "color": "#333333"}, "encoding": {"x": {"datum": 323.593}, "x2": {"datum": 354.393}, "y": {"datum": 0.960034}}},
{"mark": {"type": "text", "align": "center", "baseline": "middle", "fontSize": 10, "font": "DejaVu Sans", "color": "#333333"}, "encoding": {"x": {"datum": 356.17}, "y": {"datum": 0.964508}, "text": {"value": "✦"}}},
{"mark": {"type": "text", "align": "right", "baseline": "middle", "fontSize": 11, "font": "Liberation Sans", "color": "#333333"}, "encoding": {"x": {"datum": 356.17}, "y": {"datum": 0.947171}, "text": {"value": "0.955↗"}}},
{"mark": {"type": "text", "align": "left", "baseline": "middle", "fontSize": 11, "font": "Liberation Sans", "color": "#333333"}, "encoding": {"x": {"datum": 28.43}, "y": {"datum": 0.557356}, "text": {"value": "↙0.554"}}},
{"mark": {"type": "rect", "color": "#b4b4b4"}, "encoding": {"x": {"datum": 359.53}, "x2": {"datum": 371.77}, "y": {"datum": 0.894321}, "y2": {"datum": 0.884814}}},
{"mark": {"type": "text", "align": "center", "baseline": "middle", "fontSize": 11, "font": "DejaVu Sans", "color": "#333333"}, "encoding": {"x": {"datum": 365.06}, "y": {"datum": 0.889847}, "text": {"value": "0.886"}}},
{"mark": {"type": "text", "align": "center", "baseline": "middle", "fontSize": 8, "font": "DejaVu Sans", "color": "#333333"}, "encoding": {"x": {"datum": 373.15}, "y": {"datum": 0.757579}, "text": {"value": "◀"}}},
{"mark": {"type": "rect", "color": "#b4b4b4"}, "encoding": {"x": {"datum": 338.8}, "x2": {"datum": 357.36}, "y": {"datum": 0.545608}, "y2": {"datum": 0.536101}}},
{"mark": {"type": "text", "align": "center", "baseline": "middle", "fontSize": 12, "color": "#222222"}, "encoding": {"x": {"datum": 348.08}, "y": {"datum": 0.540855}, "text": {"value": "2021/08/18/三"}}},
{"mark": {"type": "text", "align": "center", "baseline": "middle", "fontSize": 7, "font": "DejaVu Sans", "color": "#888888"}, "encoding": {"x": {"datum": 370.19}, "y": {"datum": 0.541693}, "text": {"value": "▸▸"}}},
{"mark": {"type": "text", "align": "center", "baseline": "middle", "fontSize": 9, "font": "DejaVu Sans", "color": "#888888"}, "encoding": {"x": {"datum": 0.79}, "y": {"datum": 0.541134}, "text": {"value": "«"}}}
]
}
